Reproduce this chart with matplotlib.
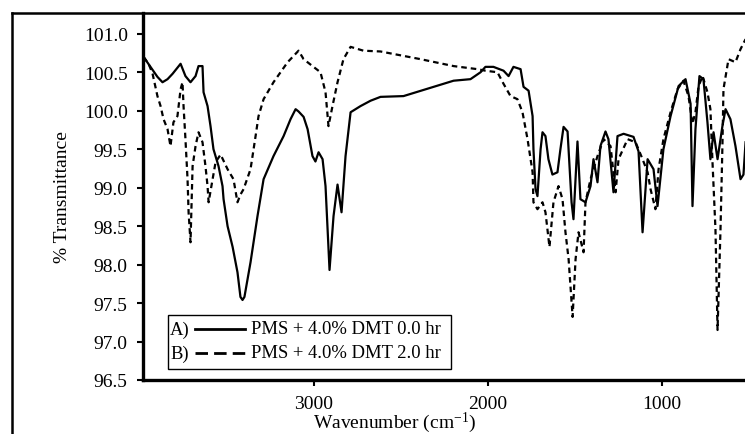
import matplotlib
matplotlib.use("Agg")
import matplotlib.pyplot as plt
from matplotlib.lines import Line2D
from matplotlib.patches import Rectangle

# ---- data ----
wn_a = [3977, 3937, 3897, 3868, 3839, 3810, 3764, 3736, 3707, 3678, 3661, 3638, 3632, 3609,
        3592, 3575, 3546, 3523, 3517, 3494, 3465, 3437, 3420, 3408, 3397, 3362, 3322, 3287,
        3230, 3172, 3132, 3103, 3086, 3057, 3034, 3006, 2989, 2971, 2948, 2931, 2908, 2885,
        2862, 2839, 2816, 2787, 2730, 2672, 2615, 2483, 2195, 2098, 2040, 2012, 1966, 1908,
        1879, 1851, 1810, 1793, 1764, 1741, 1736, 1724, 1713, 1695, 1684, 1667, 1650, 1627,
        1598, 1581, 1563, 1540, 1517, 1506, 1483, 1466, 1437, 1408, 1391, 1368, 1351, 1322,
        1305, 1276, 1253, 1218, 1161, 1132, 1109, 1080, 1046, 1023, 989, 948, 902, 862, 833,
        822, 805, 782, 759, 736, 719, 701, 678, 650, 632, 604, 575, 546, 529, 517]
t_a = [100.70, 100.57, 100.44, 100.37, 100.41, 100.48, 100.61, 100.45, 100.37, 100.45, 100.58,
       100.58, 100.24, 100.06, 99.80, 99.50, 99.28, 99.02, 98.85, 98.50, 98.23, 97.90, 97.58,
       97.54, 97.58, 98.03, 98.63, 99.11, 99.41, 99.67, 99.89, 100.02, 99.99, 99.92, 99.76,
       99.41, 99.34, 99.46, 99.37, 99.02, 97.93, 98.63, 99.04, 98.68, 99.41, 99.98, 100.06,
       100.13, 100.18, 100.19, 100.39, 100.41, 100.50, 100.57, 100.57, 100.52, 100.45, 100.57,
       100.54, 100.31, 100.26, 99.93, 99.50, 98.98, 98.89, 99.50, 99.72, 99.67, 99.37, 99.17,
       99.20, 99.50, 99.79, 99.73, 98.81, 98.59, 99.60, 98.85, 98.81, 99.02, 99.37, 99.07,
       99.54, 99.73, 99.63, 98.94, 99.67, 99.70, 99.66, 99.47, 98.42, 99.37, 99.24, 98.76,
       99.50, 99.93, 100.32, 100.41, 100.09, 98.76, 99.76, 100.45, 100.41, 99.85, 99.37, 99.72,
       99.37, 99.80, 100.02, 99.89, 99.54, 99.11, 99.17, 99.59]

wn_b = [3977, 3948, 3925, 3897, 3879, 3862, 3839, 3822, 3805, 3782, 3764, 3753, 3747, 3736,
        3724, 3718, 3707, 3695, 3678, 3661, 3638, 3621, 3609, 3603, 3580, 3563, 3534, 3494,
        3460, 3437, 3420, 3402, 3362, 3333, 3316, 3287, 3230, 3149, 3086, 3057, 3006, 2960,
        2931, 2914, 2891, 2862, 2828, 2787, 2713, 2615, 2385, 2195, 2058, 2012, 1943, 1908,
        1868, 1828, 1799, 1770, 1741, 1736, 1713, 1684, 1667, 1644, 1621, 1592, 1569, 1552,
        1534, 1511, 1494, 1477, 1448, 1437, 1408, 1368, 1333, 1293, 1264, 1247, 1195, 1149,
        1109, 1080, 1063, 1035, 1017, 989, 948, 908, 874, 845, 822, 805, 787, 764, 736, 719,
        707, 690, 678, 661, 650, 644, 615, 575, 546, 517]
t_b = [100.70, 100.61, 100.48, 100.19, 100.06, 99.89, 99.76, 99.54, 99.85, 99.93, 100.28,
       100.37, 100.06, 99.63, 99.11, 98.68, 98.29, 99.28, 99.54, 99.72, 99.59, 99.28, 99.02,
       98.81, 99.11, 99.33, 99.43, 99.24, 99.11, 98.81, 98.91, 98.98, 99.24, 99.67, 99.93,
       100.15, 100.37, 100.63, 100.78, 100.67, 100.58, 100.50, 100.24, 99.80, 100.06, 100.37,
       100.67, 100.83, 100.78, 100.77, 100.67, 100.58, 100.54, 100.52, 100.50, 100.35, 100.19,
       100.15, 99.98, 99.63, 99.20, 98.81, 98.72, 98.81, 98.68, 98.23, 98.81, 99.02, 98.85,
       98.42, 98.07, 97.32, 98.07, 98.42, 98.16, 98.81, 99.11, 99.41, 99.63, 99.54, 98.94,
       99.37, 99.63, 99.59, 99.37, 99.20, 98.98, 98.72, 99.24, 99.63, 99.98, 100.28, 100.39,
       100.19, 99.83, 99.98, 100.32, 100.45, 100.24, 100.02, 99.33, 98.46, 97.15, 98.46,
       99.54, 100.28, 100.67, 100.63, 100.80, 100.93]

label_a = "PMS + 4.0% DMT 0.0 hr"
label_b = "PMS + 4.0% DMT 2.0 hr"
prefix_a = "A)"
prefix_b = "B)"
x_ticks = [3000, 2000, 1000]
y_ticks = [96.5, 97.0, 97.5, 98.0, 98.5, 99.0, 99.5, 100.0, 100.5, 101.0]

plt.rcParams["font.family"] = ["Liberation Serif", "DejaVu Serif"]
plt.rcParams["mathtext.fontset"] = "custom"
plt.rcParams["mathtext.rm"] = "Liberation Serif"
plt.rcParams["mathtext.it"] = "Liberation Serif:italic"

FS = 14
LFS = 13.4
W, H = 745, 435
fig = plt.figure(figsize=(W / 100, H / 100), dpi=100)

# axes geometry (pixels from top-left)
left_px, bottom_px, top_px = 143, 381, 14
xmin, xmax = 3980, 400
px_per_unit = 174 / 1000
width_px = (xmin - xmax) * px_per_unit
ax = fig.add_axes([left_px / W, 1 - bottom_px / H, width_px / W, (bottom_px - top_px) / H])

DASH = (0, (2.5, 1.8))
ax.plot(wn_a, t_a, color="black", lw=1.6, solid_joinstyle="round")
ax.plot(wn_b, t_b, color="black", lw=1.6, linestyle=DASH)

ax.set_xlim(xmin, xmax)
ax.set_ylim(96.5, 101.27)
ax.set_xticks(x_ticks)
ax.set_xticklabels([str(v) for v in x_ticks])
ax.set_yticks(y_ticks)
ax.set_yticklabels([f"{v:.1f}" for v in y_ticks])
ax.tick_params(axis="both", direction="out", length=4, width=1.5, labelsize=FS, pad=7)

for s in ["top", "right"]:
    ax.spines[s].set_visible(False)
for s in ["left", "bottom"]:
    ax.spines[s].set_linewidth(2.4)

ax.set_ylabel("% Transmittance", fontsize=FS, labelpad=9)
fig.text(395 / W, 1 - 423 / H, "Wavenumber (cm$^{\\mathregular{-1}}$)", fontsize=FS,
         ha="center", va="center")

# outer frame (top and left lines)
fig.add_artist(Line2D([12 / W, 12 / W], [0, 1 - 14 / H], transform=fig.transFigure,
                      color="black", lw=1.8))
fig.add_artist(Line2D([12 / W, 1], [1 - 14 / H, 1 - 14 / H], transform=fig.transFigure,
                      color="black", lw=1.8))

# legend box drawn manually
bx0, bx1, by0, by1 = 168, 451, 316, 370
fig.add_artist(Rectangle((bx0 / W, 1 - by1 / H), (bx1 - bx0) / W, (by1 - by0) / H,
                         transform=fig.transFigure, facecolor="white", edgecolor="black",
                         lw=1.0))
rows = [(330, prefix_a, label_a, "-"), (354, prefix_b, label_b, (0, (4.5, 2.2)))]
for yp, pre, lab, ls in rows:
    yf = 1 - yp / H
    fig.text(170 / W, yf, pre, fontsize=LFS, ha="left", va="center")
    fig.add_artist(Line2D([195 / W, 245 / W], [yf, yf], transform=fig.transFigure,
                          color="black", lw=2.0, linestyle=ls))
    fig.text(251 / W, yf, lab, fontsize=LFS, ha="left", va="center")

fig.savefig("out.png", dpi=100)
